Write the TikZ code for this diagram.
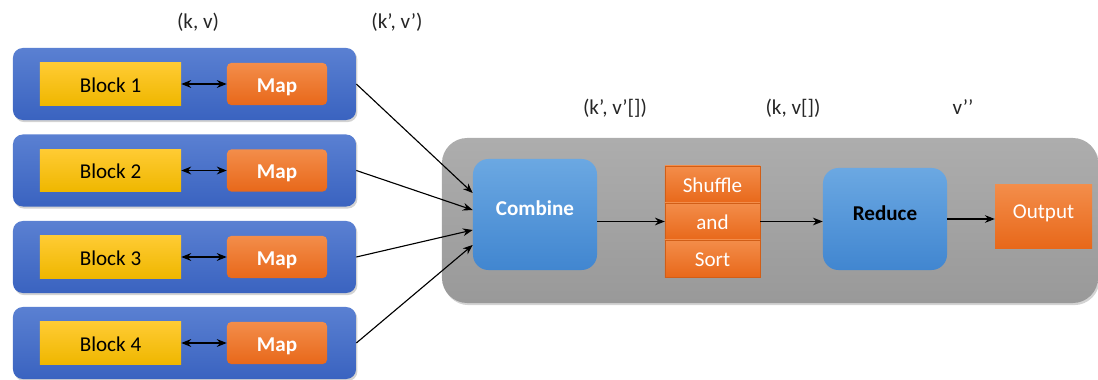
\documentclass[tikz,border=0pt]{standalone}
\usepackage{fontspec}
\setmainfont{Carlito}
\usetikzlibrary{shadows,calc,arrows.meta}

\definecolor{rowtop}{HTML}{5A80D2}
\definecolor{rowbot}{HTML}{3A63C0}
\definecolor{yeltop}{HTML}{FFCB33}
\definecolor{yelbot}{HTML}{EFB700}
\definecolor{orgtop}{HTML}{F38D4A}
\definecolor{orgbot}{HTML}{E8681A}
\definecolor{cmbtop}{HTML}{6BA8E2}
\definecolor{cmbbot}{HTML}{4186D0}
\definecolor{paneltop}{HTML}{ADADAD}
\definecolor{panelbot}{HTML}{999999}

\begin{document}
\begin{tikzpicture}[x=0.025cm, y=-0.025cm, >={Stealth[length=7pt, width=5.5pt]},
    every node/.style={font=\fontsize{15}{18}\selectfont, inner sep=0pt, text height=12pt, text depth=0pt},
    flow/.style={->, line width=0.8pt},
    softshadow/.style={drop shadow={shadow xshift=1pt, shadow yshift=-1.5pt, opacity=0.35}},
    rowbox/.style={rounded corners=7pt, top color=rowtop, bottom color=rowbot,
        minimum width=8.575cm, minimum height=1.8cm, softshadow},
    blockbox/.style={top color=yeltop, bottom color=yelbot,
        minimum width=3.525cm, minimum height=1.05cm},
    mapbox/.style={rounded corners=3pt, top color=orgtop, bottom color=orgbot,
        minimum width=2.5cm, minimum height=1.05cm, text=white, font=\fontsize{15}{18}\selectfont\bfseries},
    stagebox/.style={rounded corners=11pt, top color=cmbtop, bottom color=cmbbot,
        minimum width=3.1cm, font=\fontsize{15}{18}\selectfont\bfseries},
    cellbox/.style={top color=orgtop, bottom color=orgbot, draw=orgbot!90!black, line width=0.3pt, text=white,
        minimum width=2.375cm, minimum height=0.925cm},
    pairlabel/.style={text=black!85}]
    \useasboundingbox (0,0) rectangle (1098,380);

    % gray panel
    \node[rounded corners=18pt, top color=paneltop, bottom color=panelbot,
        minimum width=16.4cm, minimum height=4.125cm, softshadow] (panel) at (770,220.5) {};

    % input rows
    \foreach \i/\yc in {1/84,2/170.5,3/257,4/343} {
        \node[rowbox] (row\i) at (184.5,\yc) {};
        \node[blockbox] (block\i) at (110.5,\yc) {Block \i};
        \node[mapbox] (map\i) at (277,\yc) {Map};
        \draw[<->, line width=1.2pt] (block\i) -- (map\i);
    }

    % stages
    \node[stagebox, minimum height=2.775cm, text=white] (combine) at (535,214.5) {\raisebox{0.19cm}{Combine}};
    \node[cellbox] (shuffle) at (712.5,184.5) {Shuffle};
    \node[cellbox] (and) at (712.5,221.5) {and};
    \node[cellbox] (sort) at (712.5,258.5) {Sort};
    \node[stagebox, minimum height=2.55cm, text=black] (reduce) at (885,219) {\raisebox{0.17cm}{Reduce}};
    \node[top color=orgtop, bottom color=orgbot, text=white,
        minimum width=2.425cm, minimum height=1.575cm] (output) at (1043.5,216.5) {\raisebox{0.16cm}{Output}};

    % connectors
    \foreach \i/\dy in {1/-21.5,2/-4.5,3/15.5,4/30.5}
        \draw[flow] (row\i.east) -- ($(combine.west)+(0,\dy)$);
    \draw[flow] (combine.east |- and.west) -- (and.west);
    \draw[flow] (and.east) -- (and.east -| reduce.west);
    \draw[flow] (reduce.east) -- (reduce.east -| output.west);

    % key/value labels
    \node[pairlabel] (kv) at (198,20) {(k, v)};
    \node[pairlabel] (kvp) at (397,20) {(k’, v’)};
    \node[pairlabel] (kvlist) at (615,106) {(k’, v’[])};
    \node[pairlabel] (kvgroup) at (793,106) {(k, v[])};
    \node[pairlabel] (vout) at (963,106) {v’’};
\end{tikzpicture}
\end{document}
